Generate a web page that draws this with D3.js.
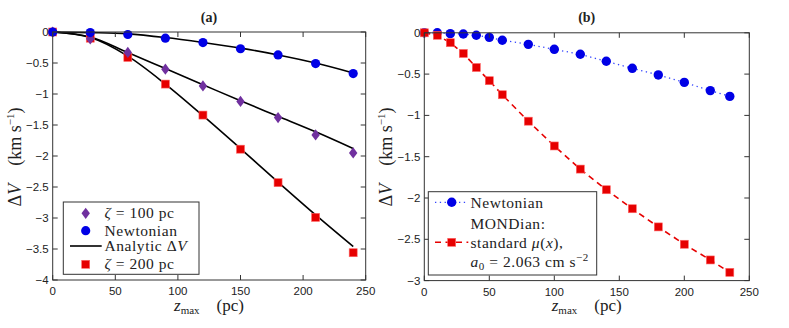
<!DOCTYPE html>
<html>
<head>
<meta charset="utf-8">
<script src="https://cdn.jsdelivr.net/npm/d3@7"></script>
<style>
body { margin:0; background:#fff; }
svg { display:block; }
.tick-label { font-family: "Liberation Sans", Arial, sans-serif; font-size: 11.5px; fill:#222; }
.serif { font-family: "Liberation Serif", "DejaVu Serif", serif; fill:#222; }
.leg { font-size: 15.5px; letter-spacing: 0.55px; }
</style>
</head>
<body>
<svg id="chart" width="789" height="328"></svg>
<script>
// ---- Panel (a) data ----
const xA = [0, 30, 60, 90, 120, 150, 180, 210, 240];
const newtonA = [0, -0.01, -0.04, -0.10, -0.17, -0.27, -0.37, -0.51, -0.67];
const zeta100 = [0, -0.11, -0.33, -0.60, -0.87, -1.12, -1.38, -1.66, -1.95];
const zeta200 = [0, -0.10, -0.41, -0.84, -1.34, -1.89, -2.43, -2.99, -3.56];
const analyticNewton = [0, -0.01, -0.03, -0.09, -0.17, -0.26, -0.37, -0.50, -0.66];
const analytic100 = [0, -0.08, -0.33, -0.59, -0.85, -1.11, -1.36, -1.61, -1.88];
const analytic200 = [0, -0.09, -0.39, -0.84, -1.35, -1.88, -2.42, -2.95, -3.46];
const xTicksA = [0, 50, 100, 150, 200, 250];
const yTicksA = [0, -0.5, -1, -1.5, -2, -2.5, -3, -3.5, -4];

// ---- Panel (b) data ----
const xB = [0, 10, 20, 30, 40, 50, 60, 80, 100, 120, 140, 160, 180, 200, 220, 235];
const newtonB = [0, 0, -0.01, -0.015, -0.03, -0.055, -0.09, -0.14, -0.20, -0.26, -0.345, -0.43, -0.51, -0.60, -0.70, -0.77];
const mondB = [0, -0.03, -0.12, -0.25, -0.42, -0.58, -0.75, -1.07, -1.37, -1.65, -1.90, -2.13, -2.35, -2.56, -2.75, -2.90];
const xTicksB = [0, 50, 100, 150, 200, 250];
const yTicksB = [0, -0.5, -1, -1.5, -2, -2.5, -3];

const BLUE = "#0000e6", RED = "#e60000", PURPLE = "#70309f";

const svg = d3.select("#chart");

function fmt(v) { return (v < 0 ? "\u2212" : "") + Math.abs(v); }

function drawAxes(g, x, y, xt, yt) {
  const [x0, x1] = x.range(), [y1, y0] = y.range();
  const tl = 5;
  const ax = g.append("g");
  xt.forEach(t => {
    const px = x(t);
    ax.append("line").attr("x1", px).attr("x2", px).attr("y1", y1).attr("y2", y1 - tl).attr("stroke", "#333");
    ax.append("line").attr("x1", px).attr("x2", px).attr("y1", y0).attr("y2", y0 + tl).attr("stroke", "#333");
    ax.append("text").attr("class", "tick-label").attr("x", px).attr("y", y1 + 15).attr("text-anchor", "middle").text(fmt(t));
  });
  yt.forEach(t => {
    const py = y(t);
    ax.append("line").attr("x1", x0).attr("x2", x0 + tl).attr("y1", py).attr("y2", py).attr("stroke", "#333");
    ax.append("line").attr("x1", x1).attr("x2", x1 - tl).attr("y1", py).attr("y2", py).attr("stroke", "#333");
    ax.append("text").attr("class", "tick-label").attr("x", x0 - 4).attr("y", py + 4).attr("text-anchor", "end").text(fmt(t));
  });
  ax.append("rect").attr("x", x0).attr("y", y0).attr("width", x1 - x0).attr("height", y1 - y0)
    .attr("fill", "none").attr("stroke", "#333").attr("stroke-width", 1);
}

function labels(g, cx, title, ylx, cy, xly) {
  g.append("text").attr("class", "serif").attr("x", cx).attr("y", 22).attr("text-anchor", "middle")
    .attr("font-weight", "bold").attr("font-size", 14).text(title);
  const xl = g.append("text").attr("class", "serif").attr("x", cx).attr("y", xly).attr("text-anchor", "middle").attr("font-size", 17);
  xl.append("tspan").attr("font-style", "italic").text("z");
  xl.append("tspan").attr("font-size", 11).attr("dy", 3).text("max");
  xl.append("tspan").attr("dy", -3).text("\u2003(pc)");
  const yl = g.append("text").attr("class", "serif").attr("text-anchor", "middle").attr("font-size", 18)
    .attr("transform", `translate(${ylx},${cy}) rotate(-90)`);
  yl.append("tspan").text("\u0394");
  yl.append("tspan").attr("font-style", "italic").text("V");
  yl.append("tspan").text("\u2003(km s");
  yl.append("tspan").attr("font-size", 11).attr("dy", -7).text("\u22121");
  yl.append("tspan").attr("dy", 7).text(")");
}

function diamond(g, cx, cy, w, h, fill) {
  g.append("path").attr("d", `M${cx},${cy - h}L${cx + w},${cy}L${cx},${cy + h}L${cx - w},${cy}Z`).attr("fill", fill);
}
function square(g, cx, cy, s, fill) {
  g.append("rect").attr("x", cx - s / 2).attr("y", cy - s / 2).attr("width", s).attr("height", s)
    .attr("fill", fill).attr("stroke", "#ff6666").attr("stroke-width", 0.6);
}
function circle(g, cx, cy, r, fill) {
  g.append("circle").attr("cx", cx).attr("cy", cy).attr("r", r).attr("fill", fill);
}

// ================= Panel (a) =================
{
  const x = d3.scaleLinear().domain([0, 250]).range([52.7, 365.7]);
  const y = d3.scaleLinear().domain([-4, 0]).range([280, 32]);
  const g = svg.append("g");
  const line = d3.line().x((d, i) => x(xA[i])).y(d => y(d)).curve(d3.curveMonotoneX);
  [analyticNewton, analytic100, analytic200].forEach(arr => {
    g.append("path").attr("d", line(arr)).attr("fill", "none").attr("stroke", "#000").attr("stroke-width", 1.6);
  });
  xA.forEach((v, i) => square(g, x(v), y(zeta200[i]), 8, RED));
  xA.forEach((v, i) => diamond(g, x(v), y(zeta100[i]), 4.2, 5.6, PURPLE));
  xA.forEach((v, i) => circle(g, x(v), y(newtonA[i]), 4.6, BLUE));
  drawAxes(g, x, y, xTicksA, yTicksA);
  labels(g, 209, "(a)", 21, 157, 311);

  const lg = g.append("g");
  lg.append("rect").attr("x", 63.3).attr("y", 202).attr("width", 135.7).attr("height", 72.3)
    .attr("fill", "#fff").attr("stroke", "#333").attr("stroke-width", 1);
  const tx = 104.5;
  diamond(lg, 85.7, 213.3, 4.2, 5.6, PURPLE);
  const t1 = lg.append("text").attr("class", "serif leg").attr("x", tx).attr("y", 218);
  t1.append("tspan").attr("font-style", "italic").text("\u03b6");
  t1.append("tspan").text(" = 100 pc");
  circle(lg, 85.7, 230.7, 4.6, BLUE);
  lg.append("text").attr("class", "serif leg").attr("x", tx).attr("y", 235.5).text("Newtonian");
  lg.append("line").attr("x1", 70).attr("x2", 101.7).attr("y1", 246).attr("y2", 246).attr("stroke", "#000").attr("stroke-width", 1.6);
  const t3 = lg.append("text").attr("class", "serif leg").attr("x", tx).attr("y", 251);
  t3.append("tspan").text("Analytic \u0394");
  t3.append("tspan").attr("font-style", "italic").text("V");
  square(lg, 85.7, 264.3, 8, RED);
  const t4 = lg.append("text").attr("class", "serif leg").attr("x", tx).attr("y", 269);
  t4.append("tspan").attr("font-style", "italic").text("\u03b6");
  t4.append("tspan").text(" = 200 pc");
}

// ================= Panel (b) =================
{
  const x = d3.scaleLinear().domain([0, 250]).range([424.3, 749.3]);
  const y = d3.scaleLinear().domain([-3, 0]).range([280.6, 32.8]);
  const g = svg.append("g");
  const line = d3.line().x((d, i) => x(xB[i])).y(d => y(d));
  g.append("path").attr("d", line(newtonB)).attr("fill", "none").attr("stroke", "#3344ff")
    .attr("stroke-width", 1.3).attr("stroke-dasharray", "1.3,3.5");
  g.append("path").attr("d", line(mondB)).attr("fill", "none").attr("stroke", RED)
    .attr("stroke-width", 1.6).attr("stroke-dasharray", "6,4.5");
  xB.forEach((v, i) => circle(g, x(v), y(newtonB[i]), 4.7, BLUE));
  xB.forEach((v, i) => square(g, x(v), y(mondB[i]), 8, RED));
  drawAxes(g, x, y, xTicksB, yTicksB);
  labels(g, 586.7, "(b)", 392, 157, 311);

  const lg = g.append("g");
  lg.append("rect").attr("x", 428.3).attr("y", 191.7).attr("width", 168.4).attr("height", 83.3)
    .attr("fill", "#fff").attr("stroke", "#333").attr("stroke-width", 1);
  lg.append("line").attr("x1", 435).attr("x2", 468.3).attr("y1", 202.3).attr("y2", 202.3)
    .attr("stroke", "#3344ff").attr("stroke-width", 1.3).attr("stroke-dasharray", "1.3,3.5");
  circle(lg, 451.7, 202.3, 4.7, BLUE);
  lg.append("line").attr("x1", 435).attr("x2", 468.3).attr("y1", 242.3).attr("y2", 242.3)
    .attr("stroke", RED).attr("stroke-width", 1.6).attr("stroke-dasharray", "6,4.5").attr("stroke-dashoffset", 0);
  square(lg, 451.7, 242.3, 8, RED);
  const tx = 470.5;
  lg.append("text").attr("class", "serif leg").attr("x", tx).attr("y", 207.5).text("Newtonian");
  lg.append("text").attr("class", "serif leg").attr("x", tx).attr("y", 228.5).text("MONDian:");
  const t3 = lg.append("text").attr("class", "serif leg").attr("x", tx).attr("y", 247.5);
  t3.append("tspan").text("standard ");
  t3.append("tspan").attr("font-style", "italic").text("\u03bc");
  t3.append("tspan").text("(");
  t3.append("tspan").attr("font-style", "italic").text("x");
  t3.append("tspan").text("),");
  const t4 = lg.append("text").attr("class", "serif leg").attr("x", tx).attr("y", 266.5);
  t4.append("tspan").attr("font-style", "italic").text("a");
  t4.append("tspan").attr("font-size", 11).attr("dy", 3).text("0");
  t4.append("tspan").attr("dy", -3).text(" = 2.063 cm s");
  t4.append("tspan").attr("font-size", 11).attr("dy", -6).text("\u22122");
}
</script>
</body>
</html>
